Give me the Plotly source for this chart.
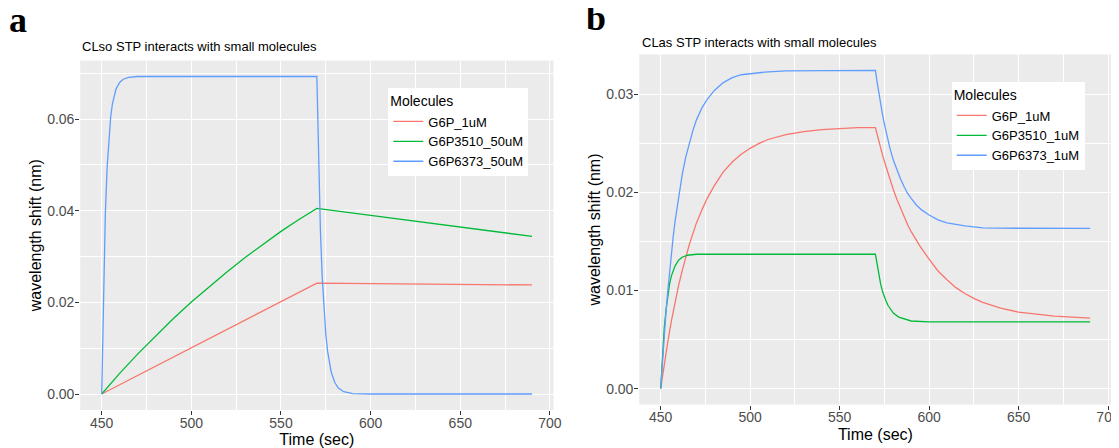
import plotly.graph_objects as go

# ---------------- Panel a: CLso STP ----------------
a_g6p_t = [450, 570, 690]
a_g6p_y = [0.0, 0.0242, 0.0238]

a_3510_t = [450, 460, 470, 480, 490, 500, 510, 520, 530, 540, 550, 560, 570, 600, 630, 660, 690]
a_3510_y = [0.0, 0.0045, 0.0087, 0.0127, 0.0165, 0.0201, 0.0235, 0.0267, 0.0298, 0.0327, 0.0355, 0.0381, 0.0405,
            0.0390, 0.0375, 0.0359, 0.0344]

a_6373_t = [450, 451, 452, 453, 454, 455, 456, 457, 458, 460, 462, 465, 470, 570,
            571, 572, 573, 574, 575, 576, 577, 578, 580, 582, 585, 590, 600, 690]
a_6373_y = [0.0, 0.0236, 0.0390, 0.0493, 0.0561, 0.0605, 0.0634, 0.0654, 0.0666, 0.0680, 0.0687, 0.0691, 0.0693, 0.0693,
            0.0495, 0.0355, 0.0254, 0.0182, 0.0130, 0.0093, 0.0067, 0.0048, 0.0025, 0.0013, 0.0005, 0.0001, 0.0, 0.0]

# ---------------- Panel b: CLas STP ----------------
b_g6p_t = [450, 452, 454, 456, 458, 460, 462, 464, 466, 468, 470, 473, 476, 480, 485, 490, 495, 500, 505, 510, 520,
           530, 540, 550, 560, 570,
           572, 574, 576, 578, 580, 582, 585, 588, 590, 595, 600, 605, 610, 615, 620, 625, 630, 640, 650, 660,
           670, 690]
b_g6p_y = [0.0, 0.0025, 0.0048, 0.0069, 0.0088, 0.0105, 0.0120, 0.0134, 0.0147, 0.0158, 0.0169, 0.0182, 0.0194,
           0.0207, 0.0221, 0.0231, 0.0239, 0.0245, 0.0250, 0.0254, 0.0259, 0.0262, 0.0264, 0.0265, 0.0266, 0.0266,
           0.0251, 0.0238, 0.0226, 0.0214, 0.0203, 0.0193, 0.0179, 0.0167, 0.0160, 0.0145, 0.0132, 0.0120, 0.0111,
           0.0103, 0.0097, 0.0092, 0.0088, 0.0082, 0.0078, 0.0076, 0.0074, 0.0072]

b_3510_t = [450, 451, 452, 453, 454, 455, 456, 457, 458, 460, 462, 465, 470, 570,
            571, 572, 573, 574, 575, 576, 577, 578, 580, 583, 586, 590, 600, 690]
b_3510_y = [0.0, 0.0036, 0.0062, 0.0080, 0.0096, 0.0107, 0.0115, 0.0121, 0.0125, 0.0131, 0.0134, 0.0136, 0.0137,
            0.0137, 0.0125, 0.0114, 0.0106, 0.0099, 0.0093, 0.0089, 0.0085, 0.0082, 0.0077, 0.0073, 0.0071, 0.0069,
            0.0068, 0.0068]

b_6373_t = [450, 451, 452, 453, 454, 455, 456, 457, 458, 460, 462, 464, 466, 468, 470, 473, 476, 480, 485, 490, 495,
            500, 510, 520, 540, 570,
            571, 572, 573, 574, 575, 576, 578, 580, 582, 584, 586, 588, 590, 593, 596, 600, 605, 610, 620, 630,
            650, 690]
b_6373_y = [0.0, 0.0029, 0.0055, 0.0079, 0.0100, 0.0120, 0.0138, 0.0155, 0.0170, 0.0196, 0.0218, 0.0236, 0.0251,
            0.0263, 0.0274, 0.0286, 0.0295, 0.0304, 0.0312, 0.0317, 0.0320, 0.0321, 0.0323, 0.0324, 0.03245, 0.03245,
            0.0312, 0.0300, 0.0289, 0.0279, 0.0270, 0.0261, 0.0246, 0.0233, 0.0223, 0.0214, 0.0206, 0.0199, 0.0194,
            0.0187, 0.0182, 0.0177, 0.0172, 0.0169, 0.0166, 0.0164, 0.01635, 0.01633]

names_a = ["G6P_1uM", "G6P3510_50uM", "G6P6373_50uM"]
names_b = ["G6P_1uM", "G6P3510_1uM", "G6P6373_1uM"]
colors = ["#F8766D", "#00BA38", "#619CFF"]

title_a = "CLso STP interacts with small molecules"
title_b = "CLas STP interacts with small molecules"
x_title = "Time (sec)"
y_title = "wavelength shift (nm)"

# the page body adds an 8px margin, so the figure is drawn 8px smaller and positions are offset
OFF = 8
W, H = 1119 - OFF, 448 - OFF
FONT = "Liberation Sans, Arial, Helvetica, sans-serif"

fig = go.Figure()
series_a = [(a_g6p_t, a_g6p_y), (a_3510_t, a_3510_y), (a_6373_t, a_6373_y)]
series_b = [(b_g6p_t, b_g6p_y), (b_3510_t, b_3510_y), (b_6373_t, b_6373_y)]
for (t, y), n, c in zip(series_a, names_a, colors):
    fig.add_trace(go.Scatter(x=t, y=y, mode="lines", name=n, line=dict(color=c, width=1.3),
                             xaxis="x", yaxis="y", legend="legend"))
for (t, y), n, c in zip(series_b, names_b, colors):
    fig.add_trace(go.Scatter(x=t, y=y, mode="lines", name=n, line=dict(color=c, width=1.3),
                             xaxis="x2", yaxis="y2", legend="legend2"))


def px_x(p):
    return (p - OFF) / W


def px_y(p):
    return 1 - (p - OFF) / H


def ggrange(vals):
    lo = min(min(v) for v in vals)
    hi = max(max(v) for v in vals)
    pad = (hi - lo) * 0.05
    return [lo - pad, hi + pad]


xr = ggrange([a_g6p_t, a_3510_t, a_6373_t])
yra = ggrange([a_g6p_y, a_3510_y, a_6373_y])
yrb = ggrange([b_g6p_y, b_3510_y, b_6373_y])

common_x = dict(range=xr, dtick=50, tick0=450, ticks="outside", ticklen=4, tickwidth=1, tickcolor="#333333",
                tickfont=dict(family=FONT, size=14, color="#4D4D4D"), showgrid=True, gridcolor="white",
                gridwidth=1.3, zeroline=False, showline=False, automargin=False,
                ticklabelstandoff=-4, ticklabeloverflow="allow",
                minor=dict(dtick=25, tick0=450, showgrid=True, gridcolor="white", gridwidth=0.6, ticks=""),
                title=dict(text=x_title, font=dict(family=FONT, size=16, color="black"), standoff=4))
common_y = dict(ticks="outside", ticklen=4, tickwidth=1, tickcolor="#333333",
                tickfont=dict(family=FONT, size=14, color="#4D4D4D"), showgrid=True, gridcolor="white",
                gridwidth=1.3, zeroline=False, showline=False, automargin=False,
                ticklabelstandoff=-2,
                title=dict(text=y_title, font=dict(family=FONT, size=16, color="black"), standoff=1))

fig.update_layout(
    width=W, height=H,
    margin=dict(l=0, r=0, t=0, b=0),
    paper_bgcolor="white",
    plot_bgcolor="#EBEBEB",
    xaxis=dict(common_x, domain=[px_x(80.2), px_x(553.5)], anchor="y"),
    yaxis=dict(common_y, domain=[px_y(409.9), px_y(60.6)], anchor="x", range=yra, dtick=0.02, tick0=0,
               tickformat=".2f",
               minor=dict(dtick=0.01, tick0=0, showgrid=True, gridcolor="white", gridwidth=0.6, ticks="")),
    xaxis2=dict(common_x, domain=[px_x(639.2), px_x(1111.6)], anchor="y2"),
    yaxis2=dict(common_y, domain=[px_y(404.6), px_y(54.4)], anchor="x2", range=yrb, dtick=0.01, tick0=0,
                tickformat=".2f",
                minor=dict(dtick=0.005, tick0=0, showgrid=True, gridcolor="white", gridwidth=0.6, ticks="")),
    legend=dict(x=px_x(388.3), y=px_y(88.3), xanchor="left", yanchor="top", bgcolor="white",
                title=dict(text="Molecules", font=dict(family=FONT, size=14, color="black")),
                font=dict(family=FONT, size=13, color="black"), tracegroupgap=0, itemwidth=30),
    legend2=dict(x=px_x(951.7), y=px_y(82.3), xanchor="left", yanchor="top", bgcolor="white",
                 title=dict(text="Molecules", font=dict(family=FONT, size=14, color="black")),
                 font=dict(family=FONT, size=13, color="black"), tracegroupgap=0, itemwidth=30),
    annotations=[
        dict(text=title_a, x=px_x(80), y=px_y(47), xref="paper", yref="paper", xanchor="left",
             yanchor="middle", showarrow=False, font=dict(family=FONT, size=13, color="black")),
        dict(text=title_b, x=px_x(640), y=px_y(42), xref="paper", yref="paper", xanchor="left",
             yanchor="middle", showarrow=False, font=dict(family=FONT, size=13, color="black")),
        dict(text="<b>a</b>", x=px_x(7), y=px_y(20), xref="paper", yref="paper", xanchor="left",
             yanchor="middle", showarrow=False,
             font=dict(family="Liberation Serif, Times New Roman, serif", size=36, color="black")),
        dict(text="<b>b</b>", x=px_x(584), y=px_y(18), xref="paper", yref="paper", xanchor="left",
             yanchor="middle", showarrow=False,
             font=dict(family="Liberation Serif, Times New Roman, serif", size=36, color="black")),
    ],
)

fig.write_html("out.html")
